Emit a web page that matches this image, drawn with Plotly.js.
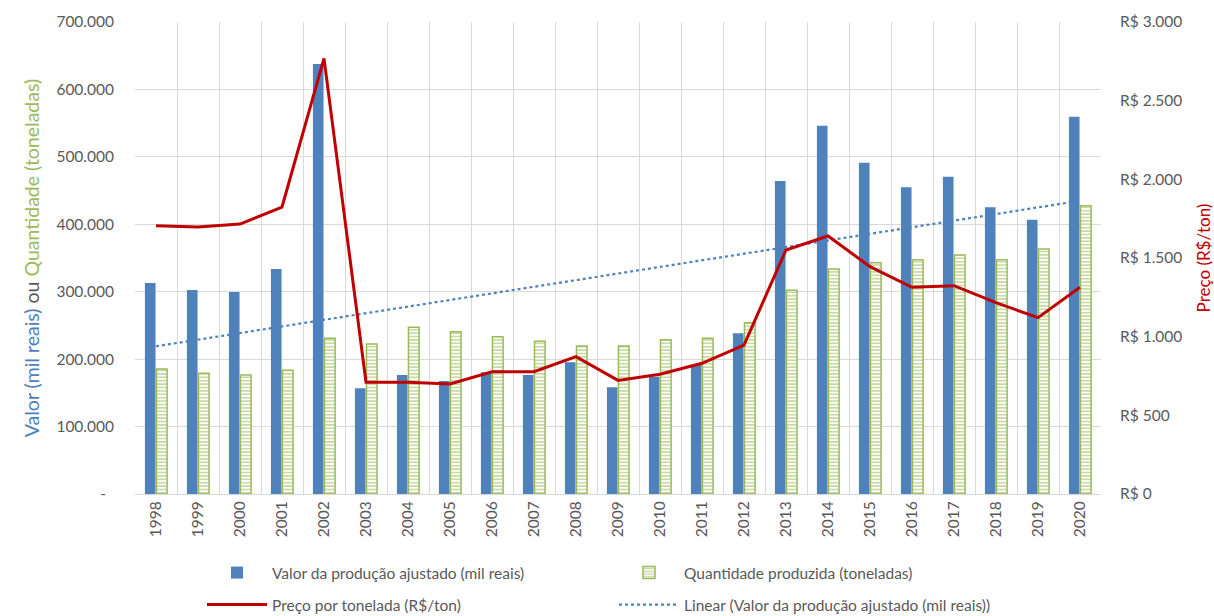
<!DOCTYPE html>
<html>
<head>
<meta charset="utf-8">
<script src="https://cdn.plot.ly/plotly-3.0.1.min.js"></script>
<style>
  html, body { margin: 0; padding: 0; background: #fff; }
  #chart { width: 1214px; height: 616px; }
</style>
</head>
<body>
<div id="chart"></div>
<script>
// Anos da série
const anos = ['1998','1999','2000','2001','2002','2003','2004','2005','2006','2007','2008',
              '2009','2010','2011','2012','2013','2014','2015','2016','2017','2018','2019','2020'];

// Valor da produção ajustado (mil reais)
const valorProducao = [313000, 302500, 299600, 333700, 637700, 156700, 176500, 167600, 180500, 176500, 195300,
                       158200, 174000, 191300, 238300, 464200, 546200, 491400, 454800, 470600, 425100, 406800, 559600];

// Quantidade produzida (toneladas)
const quantidade = [185400, 179000, 176500, 183400, 230900, 222500, 247200, 240700, 233300, 226400, 219500,
                    219500, 228900, 230900, 254100, 302000, 333700, 343000, 347500, 354400, 347500, 363300, 427600];

// Preço por tonelada (R$/ton)
const preco = [1705, 1697, 1716, 1824, 2769, 710, 710, 699, 777, 777, 873,
               722, 761, 831, 947, 1551, 1640, 1445, 1314, 1324, 1216, 1121, 1314];

// Rótulos dos eixos
const ticksValor = [0, 100000, 200000, 300000, 400000, 500000, 600000, 700000];
const rotulosValor = ['-\u00a0\u00a0', '100.000', '200.000', '300.000', '400.000', '500.000', '600.000', '700.000'];
const ticksPreco = [0, 500, 1000, 1500, 2000, 2500, 3000];
const rotulosPreco = ['R$ 0', 'R$ 500', 'R$ 1.000', 'R$ 1.500', 'R$ 2.000', 'R$ 2.500', 'R$ 3.000'];

// Tendência linear (mínimos quadrados) do valor da produção
const n = valorProducao.length;
const xm = (n - 1) / 2;
const ym = valorProducao.reduce((a, b) => a + b, 0) / n;
let sxy = 0, sxx = 0;
valorProducao.forEach((v, i) => { sxy += (i - xm) * (v - ym); sxx += (i - xm) * (i - xm); });
const inclinacao = sxy / sxx;
const tendencia = valorProducao.map((_, i) => ym + inclinacao * (i - xm));

const AZUL = '#4F81BD', VERDE = '#9BBB59', VERMELHO = '#C00000', CINZA = '#595959', GRADE = '#d9d9d9';
const FONTE = 'Lato, "Open Sans", sans-serif';

const traces = [
  {
    type: 'bar', name: 'Valor da produção ajustado (mil reais)',
    x: anos, y: valorProducao, yaxis: 'y',
    marker: { color: AZUL }, legend: 'legend'
  },
  {
    type: 'bar', name: 'Quantidade produzida (toneladas)',
    x: anos, y: quantidade, yaxis: 'y',
    marker: {
      color: '#ffffff',
      line: { color: VERDE, width: 1.5 },
      pattern: { shape: '-', fgcolor: '#93b54f', bgcolor: '#ffffff', size: 3.4, solidity: 0.5, fillmode: 'overlay' }
    },
    legend: 'legend2'
  },
  {
    type: 'scatter', mode: 'lines', name: 'Preço por tonelada (R$/ton)',
    x: anos, y: preco, yaxis: 'y2',
    line: { color: VERMELHO, width: 3 }, legend: 'legend3'
  },
  {
    type: 'scatter', mode: 'lines', name: 'Linear (Valor da produção ajustado (mil reais))',
    x: anos, y: tendencia, yaxis: 'y',
    line: { color: AZUL, width: 2.2, dash: 'dot' }, legend: 'legend4'
  }
];

// Uma legenda por item, dispostas em duas linhas e duas colunas
function legenda(x, yPx) {
  return {
    orientation: 'h', xref: 'container', yref: 'container',
    x: x, y: 1 - yPx / 616, xanchor: 'left', yanchor: 'middle',
    font: { family: FONTE, size: 15.5, color: CINZA },
    bgcolor: 'rgba(0,0,0,0)', itemwidth: 60
  };
}
const col1 = 202 / 1214, col2 = 614 / 1214;

const layout = {
  width: 1214, height: 616,
  margin: { l: 135, r: 113, t: 22, b: 122 },
  paper_bgcolor: '#ffffff', plot_bgcolor: '#ffffff',
  font: { family: FONTE, color: CINZA },
  barmode: 'group', bargap: 0.45, bargroupgap: 0.08,
  xaxis: {
    type: 'category', tickson: 'boundaries',
    showgrid: true, gridcolor: GRADE, gridwidth: 1,
    showline: true, linecolor: GRADE, linewidth: 1, mirror: false,
    ticks: '', tickangle: -90,
    tickfont: { family: FONTE, size: 15.5, color: CINZA },
    fixedrange: true
  },
  yaxis: {
    range: [0, 700000], tickvals: ticksValor, ticktext: rotulosValor,
    showgrid: true, gridcolor: GRADE, gridwidth: 1, zeroline: false,
    ticks: '', ticklabelstandoff: 20,
    tickfont: { family: FONTE, size: 15.5, color: CINZA },
    title: {
      text: '<span style="color:' + AZUL + '">Valor (mil reais)</span> ou <span style="color:' + VERDE + '">Quantidade (toneladas)</span>',
      font: { family: FONTE, size: 19.5, color: CINZA }, standoff: 11
    }
  },
  yaxis2: {
    overlaying: 'y', side: 'right',
    range: [0, 3000], tickvals: ticksPreco, ticktext: rotulosPreco,
    showgrid: false, zeroline: false,
    ticks: '', ticklabelstandoff: 18,
    tickfont: { family: FONTE, size: 15.5, color: CINZA },
    title: { text: 'Preço (R$/ton)', font: { family: FONTE, size: 17, color: VERMELHO }, standoff: 16 }
  },
  legend: legenda(col1, 573),
  legend2: legenda(col2, 573),
  legend3: legenda(col1, 605),
  legend4: legenda(col2, 605),
  showlegend: true
};

Plotly.newPlot('chart', traces, layout, { displayModeBar: false, staticPlot: true });
</script>
</body>
</html>
